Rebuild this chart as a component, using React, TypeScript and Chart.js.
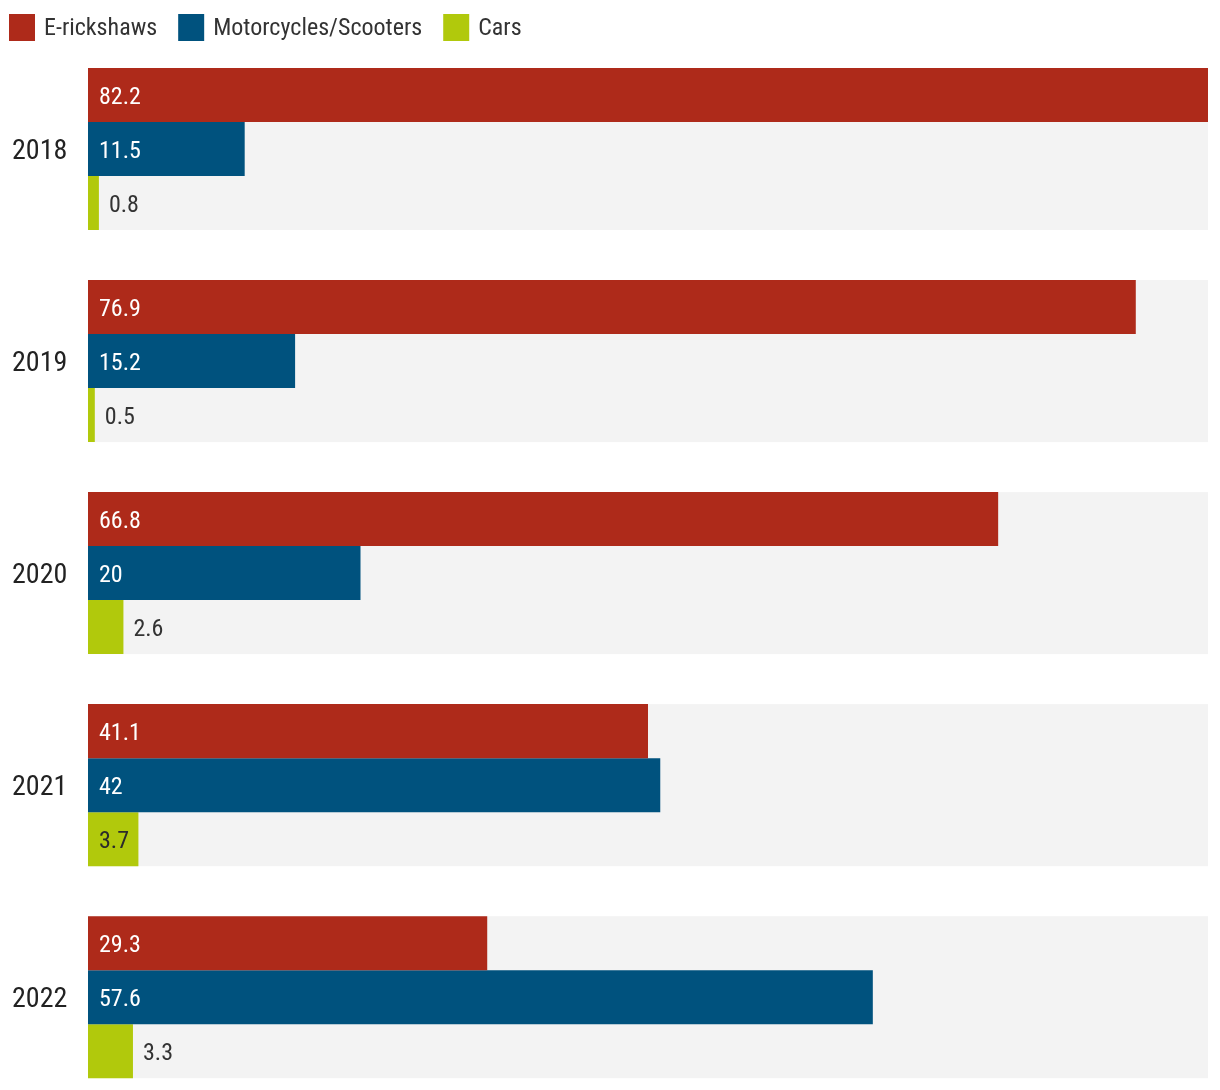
import React, { useEffect, useRef } from "react";
import { Chart, registerables } from "chart.js";

Chart.register(...registerables);

const years = ["2018", "2019", "2020", "2021", "2022"];
const seriesNames = ["E-rickshaws", "Motorcycles/Scooters", "Cars"];
const eRickshaws = [82.2, 76.9, 66.8, 41.1, 29.3];
const motorcycles = [11.5, 15.2, 20, 42, 57.6];
const cars = [0.8, 0.5, 2.6, 3.7, 3.3];
const seriesColors = ["#AE2A1A", "#00527E", "#B1C90C"];
const insideTextColors = ["#ffffff", "#ffffff", "#2b2b2b"];

const FONT = "'Liberation Sans Narrow', 'Roboto Condensed', Roboto, sans-serif";
const BAND_COLOR = "#f3f3f3";
const CAT_PCT = 162 / 212;

const bandPlugin = {
  id: "bands",
  beforeDatasetsDraw(chart: any) {
    const { ctx, chartArea, scales } = chart;
    const y = scales.y;
    const n = y.ticks.length;
    const step = (y.bottom - y.top) / n;
    const half = (step * CAT_PCT) / 2;
    ctx.save();
    ctx.fillStyle = BAND_COLOR;
    for (let i = 0; i < n; i++) {
      const c = y.getPixelForValue(i);
      ctx.fillRect(chartArea.left, c - half, chartArea.right - chartArea.left, half * 2);
    }
    ctx.restore();
  },
};

const labelPlugin = {
  id: "valueLabels",
  afterDatasetsDraw(chart: any) {
    const { ctx } = chart;
    ctx.save();
    ctx.font = `24px ${FONT}`;
    ctx.textBaseline = "middle";
    ctx.textAlign = "left";
    chart.data.datasets.forEach((ds: any, di: number) => {
      const meta = chart.getDatasetMeta(di);
      meta.data.forEach((bar: any, i: number) => {
        const v = ds.data[i];
        const txt = String(v);
        const w = ctx.measureText(txt).width;
        const barW = bar.x - bar.base;
        if (w + 16 <= barW) {
          ctx.fillStyle = insideTextColors[di];
          ctx.fillText(txt, bar.base + 11, bar.y + 2.5);
        } else {
          ctx.fillStyle = "#333333";
          ctx.fillText(txt, bar.x + 10, bar.y + 2.5);
        }
      });
    });
    ctx.restore();
  },
};

const legendPlugin = {
  id: "customLegend",
  afterDraw(chart: any) {
    const { ctx } = chart;
    ctx.save();
    ctx.font = `24px ${FONT}`;
    ctx.textBaseline = "middle";
    ctx.textAlign = "left";
    let x = 9;
    chart.data.datasets.forEach((ds: any) => {
      ctx.fillStyle = ds.backgroundColor;
      ctx.fillRect(x, 14, 26, 27);
      ctx.fillStyle = "#333333";
      ctx.fillText(ds.label, x + 35, 29);
      x += 35 + ctx.measureText(ds.label).width + 21;
    });
    ctx.restore();
  },
};

export default function App() {
  const ref = useRef<HTMLCanvasElement | null>(null);
  useEffect(() => {
    if (!ref.current) return;
    const values = [eRickshaws, motorcycles, cars];
    const maxVal = Math.max(...values.flat());
    const chart = new Chart(ref.current, {
      type: "bar",
      data: {
        labels: years,
        datasets: values.map((d, i) => ({
          label: seriesNames[i],
          data: d,
          backgroundColor: seriesColors[i],
          borderWidth: 0,
          categoryPercentage: CAT_PCT,
          barPercentage: 1,
        })),
      },
      options: {
        indexAxis: "y",
        animation: false,
        responsive: false,
        maintainAspectRatio: false,
        layout: { padding: { left: 12, right: 12, top: 43, bottom: 0 } },
        plugins: { legend: { display: false }, tooltip: { enabled: false } },
        scales: {
          x: { display: false, min: 0, max: maxVal },
          y: {
            grid: { display: false },
            border: { display: false },
            ticks: {
              crossAlign: "far",
              color: "#222222",
              font: { family: FONT, size: 28 },
              padding: 0,
              labelOffset: 3,
            },
            afterFit: (scale: any) => {
              scale.width = 76;
            },
          },
        },
      },
      plugins: [bandPlugin, labelPlugin, legendPlugin],
    } as any);
    return () => chart.destroy();
  }, []);
  return (
    <div style={{ position: "fixed", left: 0, top: 0, width: 1220, height: 1090, overflow: "hidden", background: "#fff" }}>
      <canvas ref={ref} width={1220} height={1120} style={{ display: "block" }} />
    </div>
  );
}
